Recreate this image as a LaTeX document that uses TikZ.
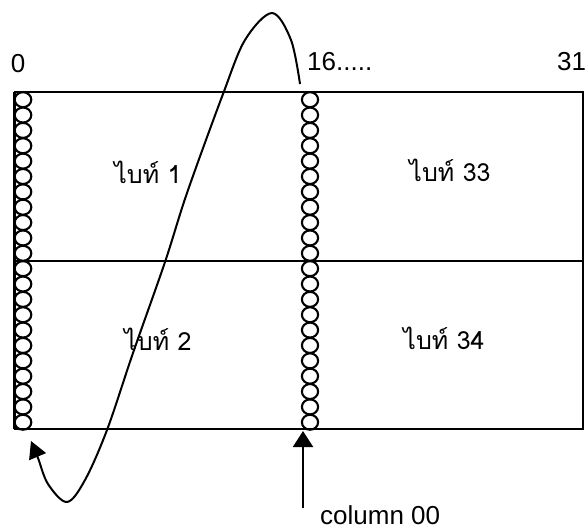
\documentclass[tikz,border=0pt]{standalone}
\usepackage{fontspec}
\setmainfont{Liberation Sans}
\newfontfamily\thaifont[Script=Thai]{Loma}
\usetikzlibrary{arrows.meta}
\begin{document}
\begin{tikzpicture}[x=1pt,y=-1pt,
  frameline/.style={line width=1.6pt},
  beadline/.style={line width=2.1pt},
  numlabel/.style={font=\fontsize{26}{30}\selectfont,inner sep=0pt},
  thailabel/.style={font=\thaifont\fontsize{25}{29}\selectfont,inner sep=0pt},
  curveline/.style={line width=2pt,line join=round}]
\useasboundingbox[fill=white] (0,0) rectangle (585,530);
% frame
\coordinate (TL) at (14,92);
\coordinate (TR) at (583,92);
\coordinate (ML) at (14,261);
\coordinate (MR) at (583,261);
\coordinate (BL) at (14,429);
\coordinate (BR) at (583,429);
\draw[frameline] (TL) -- (TR) -- (BR) -- (BL);
\draw[frameline] (ML) -- (MR);
\draw[line width=3pt] (TL) -- (BL);
% beads
\foreach \i in {0,...,21}{
  \pgfmathsetmacro{\yy}{92+7.68+\i*15.36}
  \draw[beadline] (23,\yy) ellipse [x radius=8.3, y radius=7.5];
  \draw[beadline] (310,\yy) ellipse [x radius=8.1, y radius=7.5];
}
% labels
\node[numlabel] (l0) at (18,64) {0};
\node[numlabel,anchor=west] (l16) at (307,62) {16.....};
\node[numlabel,anchor=west] (l31) at (557,62) {31};
\node[thailabel] (b1) at (148,172) {ไบท์ 1};
\node[thailabel] (b33) at (450,170) {ไบท์ 33};
\node[thailabel] (b2) at (158,339) {ไบท์ 2};
\node[thailabel] (b34) at (444,338) {ไบท์ 34};
\node[numlabel,anchor=west] (col) at (320,515) {column 00};
% column arrow
\coordinate (colbase) at (303,508);
\coordinate (coltop) at (303,431);
\draw[line width=2pt,-{Triangle[width=20pt,length=16pt]}] (colbase) -- (coltop);
% curved arrow
\coordinate (c0) at (300,84);
\coordinate (c1) at (291,40);
\coordinate (c2) at (272,13);
\coordinate (c3) at (245,40);
\coordinate (c4) at (223,94);
\coordinate (c5) at (187,193);
\coordinate (c6) at (165,262);
\coordinate (c7) at (133,353);
\coordinate (c8) at (107,430);
\coordinate (c9) at (85,480);
\coordinate (c10) at (67,502);
\coordinate (c11) at (48,484);
\coordinate (c12) at (38,458);
\coordinate (c13) at (31,441);
\draw[curveline,-{Triangle[width=18pt,length=17pt]}] plot[smooth,tension=0.55] coordinates {(c0) (c1) (c2) (c3) (c4) (c5) (c6) (c7) (c8) (c9) (c10) (c11) (c12) (c13)};
\end{tikzpicture}
\end{document}
